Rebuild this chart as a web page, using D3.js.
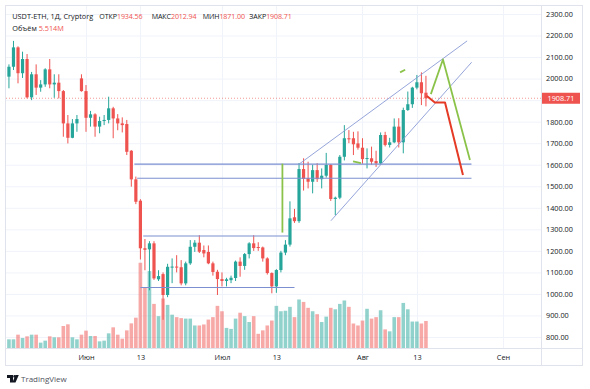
<!DOCTYPE html>
<html>
<head>
<meta charset="utf-8">
<script src="https://d3js.org/d3.v7.min.js"></script>
<style>
  body { margin: 0; background: #fff; }
  svg { display: block; font-family: 'Open Sans', sans-serif; }
</style>
</head>
<body>
<script>
// daily candles, USDT-ETH, starting 15 May 2022
var firstDay = '2022-05-15';
var opens = [2009,2055,2145,2025,2091,1913,2020,1958,1973,2043,1973,1981,1942,1792,1725,1792,2001,1942,1818,1834,1777,1803,1808,1862,1815,1792,1789,1665,1532,1433,
  1212,1207,1235,1068,1092,995,1126,1127,1124,1049,1142,1219,1238,1204,1195,1142,1103,1069,1060,1064,1074,1150,1130,1185,1235,1218,1216,1165,1097,1035,
  1111,1192,1229,1356,1338,1580,1538,1521,1575,1533,1549,1599,1441,1447,1637,1723,1723,1699,1679,1630,1630,1617,1606,1738,1692,1704,1777,1704,1854,1881,
  1958,1983,1934.56];
var highs = [2066,2175,2150,2125,2114,2031,2066,1993,2048,2091,2020,2020,1947,1831,1812,1831,2020,1970,1850,1839,1823,1831,1916,1869,1835,1820,1808,1668,1545,1440,
  1255,1245,1245,1110,1100,1140,1165,1180,1157,1150,1250,1250,1273,1225,1225,1150,1112,1100,1075,1085,1155,1170,1190,1240,1273,1240,1220,1170,1100,1115,
  1200,1250,1430,1395,1608,1630,1614,1600,1607,1583,1655,1603,1452,1645,1784,1761,1753,1755,1723,1676,1684,1665,1750,1753,1725,1815,1816,1865,1940,1962,
  2017,2029,2012.94];
var lows = [1955,2040,1978,2003,1908,1900,1924,1939,1962,1955,1911,1908,1730,1699,1723,1753,1939,1753,1777,1730,1746,1784,1792,1723,1760,1750,1645,1498,1417,1160,
  1110,1017,1065,1060,880,985,1050,1100,1040,1040,1135,1195,1190,1170,1138,1085,995,1035,1035,1050,1060,1080,1112,1165,1200,1200,1150,1090,1003,1005,
  1100,1180,1220,1330,1330,1480,1490,1467,1520,1490,1540,1432,1366,1440,1620,1700,1645,1670,1605,1583,1600,1590,1600,1685,1680,1700,1680,1653,1850,1864,
  1950,1877,1871];
var closes = [2055,2145,2025,2091,1913,2020,1958,1973,2043,1973,1981,1942,1792,1725,1792,1812,1942,1818,1834,1777,1803,1808,1862,1815,1792,1784,1660,1532,1428,1212,
  1205,1235,1072,1083,995,1126,1127,1124,1049,1142,1219,1238,1196,1188,1142,1102,1069,1060,1068,1075,1150,1130,1185,1235,1213,1216,1165,1097,1035,1111,
  1192,1229,1351,1338,1580,1534,1521,1575,1533,1549,1599,1441,1447,1637,1723,1718,1695,1679,1626,1631,1614,1606,1738,1692,1704,1777,1704,1854,1881,1958,
  1983,1932,1908.71];
// volume, millions
var volumes = [1.77,1.77,2.72,2.04,2.38,2.72,2.72,1.09,1.50,2.38,2.18,2.18,4.49,4.83,2.18,1.77,2.72,3.54,2.45,2.45,1.36,1.50,2.99,4.22,2.72,1.90,3.60,5.03,6.19,17.4,
  12.4,15.7,9.0,6.5,10.1,8.8,6.8,6.3,6.1,6.0,6.0,4.6,4.6,4.8,5.8,6.3,8.6,7.5,4.1,3.9,6.0,7.2,6.5,5.3,6.5,2.9,3.6,4.6,5.6,8.6,
  7.5,7.6,8.4,6.3,9.9,9.4,8.2,7.5,6.9,5.3,6.4,8.2,7.9,9.0,9.7,8.4,5.0,4.6,5.6,8.0,6.0,6.3,7.7,3.8,3.4,6.3,6.3,9.2,7.9,5.4,
  5.4,5.0,5.514];

var priceTicks = d3.range(800, 2301, 100);
var timeTicks = ['2022-06-01','2022-06-13','2022-07-01','2022-07-13','2022-08-01','2022-08-13','2022-09-01'];
var timeLabels = ['Июн','13','Июл','13','Авг','13','Сен'];
var lastPrice = 1908.71;

// drawings: horizontal levels, channel, scenarios
var levels = [
  ['2022-06-11T16:00Z','2022-08-25T01:00Z',1603],
  ['2022-06-12T07:00Z','2022-08-25T01:00Z',1537],
  ['2022-06-13T15:00Z','2022-07-15T19:00Z',1269],
  ['2022-06-13T00:00Z','2022-07-17T00:00Z',1030]
];
var channel = [
  [['2022-07-18T05:00Z',1606],['2022-08-24T02:00Z',2175]],
  [['2022-07-25T01:00Z',1340],['2022-08-25T02:00Z',2076]]
];
var greenPaths = [
  [['2022-07-14T08:00Z',1605],['2022-07-14T08:00Z',1285]],
  [['2022-08-16T02:00Z',1928],['2022-08-18T18:00Z',2089],['2022-08-24T17:00Z',1622]],
  [['2022-07-29T22:00Z',1616],['2022-07-31T16:00Z',1608]],
  [['2022-08-09T07:00Z',2029],['2022-08-10T10:00Z',2041]]
];
var redPath = [['2022-08-15T05:00Z',1919],['2022-08-16T23:00Z',1889],['2022-08-19T05:00Z',1889],['2022-08-23T04:00Z',1552]];

var up = '#26a69a', down = '#ef5350';
var border = '#e0e3eb', grid = '#f0f3fa', ink = '#131722';

var svg = d3.select('body').append('svg')
  .attr('width', 590)
  .attr('height', 389);

var parseDay = d3.utcParse('%Y-%m-%d');
var dates = opens.map(function(d, i) { return d3.utcDay.offset(parseDay(firstDay), i); });

var x = d3.scaleUtc()
  .domain([parseDay('2022-06-01'), parseDay('2022-09-01')])
  .range([86, 503]);
var y = d3.scaleLinear().domain([800, 2300]).range([337, 14]);
var yVol = d3.scaleLinear().domain([0, 20]).range([348, 250]);

svg.append('clipPath').attr('id', 'plot')
  .append('rect').attr('x', 6).attr('y', 6).attr('width', 535).attr('height', 342);

// grid
svg.append('g').selectAll('line').data(priceTicks).enter().append('line')
  .attr('x1', 6).attr('x2', 541)
  .attr('y1', function(d) { return y(d) + 0.5; })
  .attr('y2', function(d) { return y(d) + 0.5; })
  .attr('stroke', grid);
svg.append('g').selectAll('line').data(timeTicks).enter().append('line')
  .attr('x1', function(d) { return Math.round(x(parseDay(d))) + 0.5; })
  .attr('x2', function(d) { return Math.round(x(parseDay(d))) + 0.5; })
  .attr('y1', 6).attr('y2', 348)
  .attr('stroke', grid);

var plot = svg.append('g').attr('clip-path', 'url(#plot)');

// volume
plot.append('g').selectAll('rect').data(volumes).enter().append('rect')
  .attr('x', function(d, i) { return x(dates[i]) - 1.8; })
  .attr('width', 3.6)
  .attr('y', function(d) { return yVol(d); })
  .attr('height', function(d) { return yVol(0) - yVol(d); })
  .attr('fill', function(d, i) { return closes[i] >= opens[i] ? up : down; })
  .attr('fill-opacity', 0.5);

// last price line
plot.append('line')
  .attr('x1', 6).attr('x2', 541)
  .attr('y1', y(lastPrice)).attr('y2', y(lastPrice))
  .attr('stroke', down).attr('stroke-opacity', 0.6)
  .attr('stroke-dasharray', '1,2');

// candles
var candles = plot.append('g').selectAll('g').data(opens).enter().append('g')
  .attr('fill', function(d, i) { return closes[i] >= opens[i] ? up : down; })
  .attr('stroke', function(d, i) { return closes[i] >= opens[i] ? up : down; });
candles.append('line')
  .attr('x1', function(d, i) { return x(dates[i]); })
  .attr('x2', function(d, i) { return x(dates[i]); })
  .attr('y1', function(d, i) { return y(highs[i]); })
  .attr('y2', function(d, i) { return y(lows[i]); })
  .attr('stroke-width', 1);
candles.append('rect')
  .attr('x', function(d, i) { return x(dates[i]) - 1.6; })
  .attr('width', 3.2)
  .attr('y', function(d, i) { return y(Math.max(opens[i], closes[i])); })
  .attr('height', function(d, i) { return Math.max(1, Math.abs(y(opens[i]) - y(closes[i]))); })
  .attr('stroke', 'none');

// drawings
var pt = d3.line()
  .x(function(p) { return x(new Date(p[0])); })
  .y(function(p) { return y(p[1]); });

plot.append('g').selectAll('line').data(levels).enter().append('line')
  .attr('x1', function(d) { return x(new Date(d[0])); })
  .attr('x2', function(d) { return x(new Date(d[1])); })
  .attr('y1', function(d) { return y(d[2]); })
  .attr('y2', function(d) { return y(d[2]); })
  .attr('stroke', '#7b8fd1').attr('stroke-width', 1.1);

plot.append('g').selectAll('path').data(channel).enter().append('path')
  .attr('d', pt)
  .attr('fill', 'none').attr('stroke', '#8a9bd6').attr('stroke-width', 0.9);

plot.append('g').selectAll('path').data(greenPaths).enter().append('path')
  .attr('d', pt)
  .attr('fill', 'none').attr('stroke', '#8bc34a').attr('stroke-width', 1.8)
  .attr('stroke-linejoin', 'round');

plot.append('path').datum(redPath)
  .attr('d', pt)
  .attr('fill', 'none').attr('stroke', '#e53a25').attr('stroke-width', 2)
  .attr('stroke-linejoin', 'round');

// frame
svg.append('rect')
  .attr('x', 5.5).attr('y', 5.5).attr('width', 577).attr('height', 360)
  .attr('fill', 'none').attr('stroke', border);
svg.append('line').attr('x1', 541.5).attr('x2', 541.5).attr('y1', 6).attr('y2', 366).attr('stroke', border);
svg.append('line').attr('x1', 6).attr('x2', 583).attr('y1', 348.5).attr('y2', 348.5).attr('stroke', border);

// price axis
svg.append('g')
  .attr('transform', 'translate(546,0)')
  .call(d3.axisRight(y).tickValues(priceTicks).tickSize(0).tickPadding(0)
    .tickFormat(function(d) { return d === 1900 ? '' : d3.format('.2f')(d); }))
  .call(function(g) { g.select('.domain').remove(); })
  .attr('font-family', null).attr('font-size', 7.3)
  .attr('color', ink);

// last price tag
svg.append('rect')
  .attr('x', 542).attr('y', y(lastPrice) - 5.5)
  .attr('width', 38).attr('height', 11)
  .attr('fill', down);
svg.append('text')
  .attr('x', 561).attr('y', y(lastPrice))
  .attr('dy', '0.35em')
  .attr('text-anchor', 'middle')
  .attr('font-size', 7.3).attr('fill', '#fff')
  .text(d3.format('.2f')(lastPrice));

// time axis
svg.append('g')
  .attr('transform', 'translate(0,354.5)')
  .call(d3.axisBottom(x).tickValues(timeTicks.map(parseDay)).tickSize(0).tickPadding(0)
    .tickFormat(function(d, i) { return timeLabels[i]; }))
  .call(function(g) { g.select('.domain').remove(); })
  .attr('font-family', null).attr('font-size', 7.3)
  .attr('color', ink);

// legend: label followed directly by its value
var fmt = d3.format('.2f');
var last = opens.length - 1;
var head = [
  ['ОТКР', fmt(opens[last]), 99.3],
  ['МАКС', fmt(highs[last]), 151.7],
  ['МИН', fmt(lows[last]), 202.7],
  ['ЗАКР', fmt(closes[last]), 249.3]
];
svg.append('text').attr('x', 12.3).attr('y', 19.3).attr('font-size', 7.3).attr('fill', ink)
  .text('USDT-ETH, 1Д, Cryptorg');
var items = svg.append('g').selectAll('text').data(head).enter().append('text')
  .attr('x', function(d) { return d[2]; })
  .attr('y', 19.3)
  .attr('font-size', 7.1)
  .attr('letter-spacing', -0.1);
items.append('tspan').attr('fill', ink).text(function(d) { return d[0]; });
items.append('tspan').attr('fill', down).text(function(d) { return d[1]; });

var vol = svg.append('text').attr('x', 12.3).attr('y', 30.5).attr('font-size', 7.3);
vol.append('tspan').attr('fill', ink).text('Объём ');
vol.append('tspan').attr('fill', down).text(volumes[last].toFixed(3) + 'M');

// TradingView mark
svg.append('path')
  .attr('d', 'M7,375h6v7.5h-3v-4.5h-3z M15.5,375h3.3l-3.3,7.5h-3.1z')
  .attr('fill', ink);
svg.append('circle').attr('cx', 14.6).attr('cy', 376.4).attr('r', 1.3).attr('fill', ink);
svg.append('text').attr('x', 21).attr('y', 381.5).attr('font-size', 8).attr('fill', '#50535e').text('TradingView');
</script>
</body>
</html>
